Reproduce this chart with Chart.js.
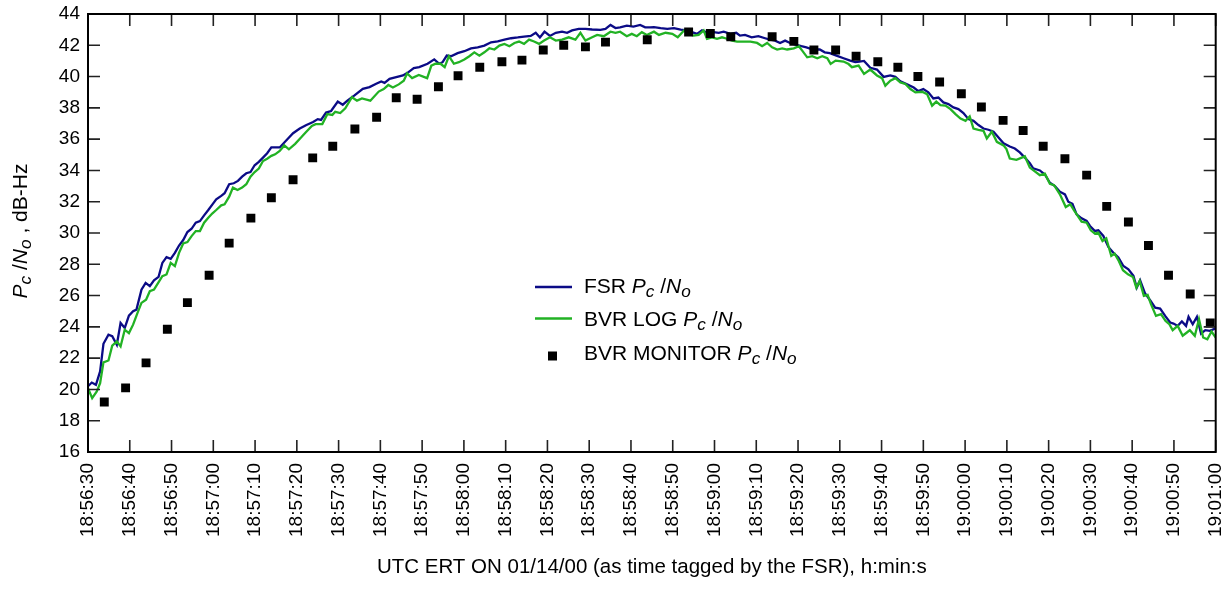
<!DOCTYPE html>
<html>
<head>
<meta charset="utf-8">
<script src="https://cdn.jsdelivr.net/npm/chart.js@4.4.1/dist/chart.umd.min.js"></script>
<style>
  html, body { margin: 0; padding: 0; background: #ffffff; }
  #wrap { width: 1222px; height: 596px; }
</style>
</head>
<body>
<div id="wrap"><canvas id="chart" width="1222" height="596"></canvas></div>
<script>
// Time axis: seconds after 18:56:30 UTC, one label every 10 s
const tickLabels = [
  '18:56:30', '18:56:40', '18:56:50', '18:57:00', '18:57:10', '18:57:20', '18:57:30',
  '18:57:40', '18:57:50', '18:58:00', '18:58:10', '18:58:20', '18:58:30', '18:58:40',
  '18:58:50', '18:59:00', '18:59:10', '18:59:20', '18:59:30', '18:59:40', '18:59:50',
  '19:00:00', '19:00:10', '19:00:20', '19:00:30', '19:00:40', '19:00:50', '19:01:00'
];

// FSR Pc/No  [seconds, dB-Hz]
const fsrReadings = [
  [0,20.2],[0.9,20.44],[1.9,20.3],[2.9,21.15],[3.7,22.92],[4.9,23.5],[5.8,23.4],[6.9,22.86],
  [7.8,24.25],[8.8,23.93],[9.8,24.72],[10.8,25.0],[11.6,25.1],[12.8,26.38],[13.8,26.81],[14.8,26.6],
  [15.8,26.98],[16.9,27.2],[17.8,28.09],[18.8,28.46],[19.8,28.35],[20.8,28.73],[21.8,29.2],[22.8,29.55],
  [23.8,30.06],[24.8,30.27],[25.8,30.66],[26.8,30.76],[27.8,31.13],[28.8,31.47],[29.8,31.83],[30.7,32.15],
  [31.9,32.37],[32.7,32.54],[33.8,33.12],[34.9,33.18],[35.9,33.33],[36.9,33.6],[37.9,33.82],[38.9,33.9],
  [39.9,34.33],[40.9,34.55],[41.9,34.82],[42.9,35.1],[43.9,35.47],[44.8,35.47],[45.9,35.47],[47.9,36.04],
  [49.1,36.38],[50.7,36.68],[52.3,36.9],[53.9,37.1],[55.0,37.28],[55.8,37.23],[57.0,37.7],[58.2,37.8],
  [59.8,38.4],[61.0,38.2],[62.1,38.46],[63.8,38.8],[65.8,39.22],[67.4,39.33],[69.0,39.54],[70.2,39.69],
  [71.0,39.6],[72.2,39.86],[73.8,39.97],[75.4,40.07],[76.5,40.24],[78.0,40.54],[79.3,40.6],[81.3,40.82],
  [82.9,41.1],[84.1,40.82],[84.9,40.92],[85.9,41.34],[86.9,41.3],[88.5,41.5],[90.1,41.62],[91.7,41.8],
  [93.3,41.87],[94.9,41.98],[96.5,42.19],[98.1,42.25],[99.7,42.36],[101.3,42.45],[102.9,42.5],[104.4,42.56],
  [106.0,42.6],[107.2,42.8],[108.2,42.5],[109.3,42.87],[110.6,42.6],[112.0,42.8],[113.5,42.87],[114.7,42.8],
  [115.9,42.95],[117.5,43.05],[119.1,43.05],[120.7,43.01],[122.7,42.99],[123.9,43.05],[125.1,43.3],[126.3,43.1],
  [127.4,43.15],[129.0,43.26],[130.6,43.2],[132.2,43.3],[133.4,43.15],[134.6,43.15],[135.5,43.16],[137.1,43.1],
  [138.7,43.05],[140.3,43.1],[141.9,43.0],[143.4,42.95],[144.6,42.84],[145.8,42.73],[147.0,42.95],[148.3,42.8],
  [149.8,42.84],[151.0,42.8],[152.2,42.87],[153.8,42.73],[155.2,42.8],[156.1,42.62],[157.3,42.66],[158.9,42.51],
  [160.5,42.58],[162.1,42.45],[163.3,42.36],[164.5,42.3],[165.7,42.15],[166.9,42.3],[168.1,42.15],[169.6,42.02],
  [170.8,41.94],[172.0,41.87],[173.6,41.73],[175.2,41.73],[176.4,41.55],[177.6,41.5],[179.2,41.34],[180.9,41.17],
  [182.5,41.02],[183.7,40.92],[184.7,40.96],[185.8,41.0],[187.3,40.56],[188.9,40.45],[190.5,39.98],[192.1,40.07],
  [193.3,39.98],[194.5,39.7],[196.1,39.5],[197.7,39.3],[198.8,39.07],[200.0,39.2],[201.2,38.99],[202.4,38.6],
  [203.6,38.66],[204.8,38.35],[206.0,38.24],[207.2,38.03],[208.4,37.92],[209.6,37.67],[210.8,37.28],[212.0,37.17],
  [213.2,36.9],[214.4,36.68],[215.6,36.6],[216.8,36.47],[218.0,36.1],[219.2,35.74],[220.7,35.53],[221.9,35.4],
  [223.1,35.15],[224.3,34.82],[225.5,34.46],[226.3,34.13],[227.9,34.0],[229.1,33.74],[230.3,33.21],[231.5,33.0],
  [232.7,32.64],[233.9,32.47],[234.7,32.0],[235.7,31.87],[236.7,31.19],[237.9,30.94],[239.1,30.77],[239.9,30.45],
  [241.1,30.13],[241.9,30.17],[243.1,29.81],[244.3,29.11],[245.5,28.74],[246.7,28.43],[247.9,27.89],[249.1,27.68],
  [250.3,27.26],[251.1,26.51],[251.9,26.98],[253.1,26.13],[254.3,25.7],[255.5,25.23],[256.7,25.17],[257.9,24.7],
  [259.1,24.28],[259.9,24.21],[260.9,24.06],[261.9,24.34],[262.9,24.06],[263.5,24.64],[264.5,24.17],[265.5,24.64],
  [266.5,23.57],[267.5,23.79],[268.6,23.74],[270,23.9]
];

// BVR log Pc/No  [seconds, dB-Hz]
const bvrLogReadings = [
  [0,20.08],[1.0,19.44],[2.1,19.87],[2.9,20.4],[3.7,21.73],[4.9,21.85],[5.8,22.8],[6.9,23.07],
  [7.8,22.75],[8.8,23.82],[9.8,23.6],[10.8,24.14],[11.9,24.93],[12.8,25.53],[13.9,25.74],[14.8,26.28],
  [15.8,26.38],[16.8,26.81],[17.8,27.24],[18.8,27.35],[19.8,28.09],[20.8,27.88],[21.8,28.73],[22.8,29.33],
  [23.8,29.42],[24.8,29.8],[25.8,30.12],[26.8,30.12],[27.8,30.66],[28.8,30.98],[29.8,31.26],[30.7,31.47],
  [31.9,31.77],[32.7,31.83],[33.8,32.32],[34.7,32.9],[35.8,32.75],[36.9,32.9],[37.9,33.12],[38.9,33.6],
  [39.9,33.9],[40.9,34.12],[41.9,34.6],[42.9,34.75],[43.9,34.93],[44.8,35.03],[45.9,35.25],[47.0,35.6],
  [48.1,35.35],[49.6,35.7],[51.0,36.1],[52.1,36.43],[53.6,36.85],[54.5,36.96],[56.1,36.96],[57.3,37.6],
  [58.5,37.55],[59.2,37.75],[60.4,37.67],[61.6,37.97],[63.2,38.68],[64.4,38.46],[65.6,38.6],[67.6,38.46],
  [69.6,39.04],[70.8,39.2],[71.9,39.46],[73.0,39.3],[74.4,39.5],[75.6,39.73],[76.4,40.2],[77.6,39.9],
  [79.2,40.1],[81.2,39.9],[82.2,40.7],[83.2,40.82],[84.4,40.82],[85.4,40.6],[86.4,41.3],[87.6,40.82],
  [88.8,40.92],[90.1,41.09],[91.3,41.3],[92.5,41.55],[93.7,41.34],[94.9,41.55],[96.1,41.81],[97.3,41.73],
  [98.5,41.98],[99.7,42.09],[100.9,41.94],[102.1,42.15],[103.2,42.24],[104.4,42.09],[105.6,42.36],[106.8,42.24],
  [108.0,42.09],[109.2,42.3],[110.6,42.51],[112.0,42.3],[113.5,42.36],[115.1,42.51],[116.7,42.36],[117.9,42.8],
  [119.1,42.3],[120.7,42.51],[121.9,42.66],[123.5,42.58],[125.1,42.87],[126.3,42.8],[127.4,42.87],[129.0,42.58],
  [130.2,42.73],[131.4,42.58],[132.6,42.84],[133.8,42.66],[135.5,42.87],[136.7,42.66],[138.3,42.8],[139.9,42.73],
  [141.2,42.51],[142.7,42.95],[143.8,42.73],[145.0,42.62],[146.2,42.66],[147.4,42.95],[148.2,42.41],[149.4,42.51],
  [150.6,42.41],[151.8,42.51],[152.6,42.45],[154.2,42.3],[155.4,42.24],[157.0,42.24],[158.6,42.24],[160.2,42.15],
  [161.4,41.94],[162.6,42.15],[163.8,41.87],[165.0,41.73],[166.2,41.8],[167.4,41.73],[169.0,41.8],[170.2,41.94],
  [171.0,41.66],[172.2,41.23],[173.4,41.3],[174.6,41.17],[175.8,41.3],[177.0,41.17],[177.8,40.81],[179.0,41.02],
  [180.9,40.96],[182.1,40.8],[182.9,40.6],[184.5,40.7],[185.8,40.17],[187.3,40.45],[188.9,40.07],[190.1,39.9],
  [190.9,39.42],[192.1,39.74],[193.3,39.9],[194.5,39.63],[195.7,39.53],[196.9,39.2],[198.1,38.99],[199.7,39.03],
  [200.9,38.88],[202.1,38.14],[203.1,38.4],[204.1,38.18],[205.3,38.14],[206.5,37.92],[207.7,37.6],[208.9,37.32],
  [210.1,37.17],[211.1,37.45],[212.0,36.68],[213.2,36.6],[214.4,36.53],[215.2,36.04],[216.4,36.47],[217.6,35.83],
  [219.2,35.6],[219.9,35.36],[220.7,34.76],[222.3,34.68],[224.3,34.9],[225.5,34.18],[227.9,33.7],[229.1,33.79],
  [230.3,33.15],[231.3,33.06],[232.7,32.47],[234.1,31.66],[235.2,31.83],[236.2,31.4],[237.9,30.72],[239.1,30.66],
  [240.1,30.17],[241.1,29.96],[241.9,30.02],[242.9,29.49],[243.8,29.66],[245.0,28.53],[245.8,28.68],[246.8,28.21],
  [247.8,27.62],[249.0,27.36],[250.2,27.19],[251.0,26.51],[251.8,26.94],[252.8,25.98],[253.7,26.04],[254.5,25.45],
  [255.7,24.7],[256.9,24.81],[258.0,24.38],[258.9,24.17],[259.7,23.79],[260.9,24.06],[262.1,23.43],[263.1,23.64],
  [263.8,23.79],[265.0,23.43],[266.0,24.49],[267.0,23.32],[268.0,23.21],[269.0,23.7],[270.0,23.32]
];

// BVR monitor Pc/No  [seconds, dB-Hz]
const bvrMonitorReadings = [
  [3.9,19.2],[9.0,20.1],[13.9,21.7],[19.0,23.85],[23.8,25.55],[29.0,27.3],[33.8,29.35],[39.0,30.95],
  [43.9,32.25],[49.1,33.4],[53.8,34.8],[58.6,35.55],[63.9,36.65],[69.1,37.4],[73.8,38.65],[78.8,38.55],
  [83.9,39.35],[88.6,40.05],[93.8,40.6],[99.1,40.95],[103.9,41.05],[109.0,41.7],[113.9,42.0],[119.1,41.9],
  [123.9,42.2],[133.9,42.35],[143.8,42.85],[149.0,42.75],[153.9,42.55],[163.8,42.55],[169.0,42.25],[173.8,41.7],
  [179.0,41.7],[183.9,41.3],[189.1,40.95],[193.9,40.6],[198.7,40.0],[203.9,39.65],[209.1,38.9],[213.9,38.05],
  [219.1,37.2],[223.9,36.55],[228.7,35.55],[233.9,34.75],[239.1,33.7],[243.9,31.7],[249.1,30.7],[253.9,29.2],
  [258.7,27.3],[263.9,26.1],[268.7,24.25]
];

const FAMILY = "'Liberation Sans', Arial, Helvetica, sans-serif";
const COLOR_FSR = '#0b0b86';
const COLOR_LOG = '#22b224';

const toXY = arr => arr.map(([s, v]) => ({ x: s, y: v }));

// Draws a run of text pieces: [text, italic, subscript]
function drawRich(ctx, parts, x, y, size, align) {
  const fontOf = p => (p[1] ? 'italic ' : '') + (p[2] ? size * 0.82 : size) + 'px ' + FAMILY;
  let total = 0;
  for (const p of parts) { ctx.font = fontOf(p); total += ctx.measureText(p[0]).width; }
  let cx = align === 'center' ? x - total / 2 : x;
  ctx.textAlign = 'left';
  ctx.textBaseline = 'alphabetic';
  for (const p of parts) {
    ctx.font = fontOf(p);
    ctx.fillText(p[0], cx, y + (p[2] ? size * 0.2 : 0));
    cx += ctx.measureText(p[0]).width;
  }
}

const pcno = [['P', true, false], ['c', true, true], [' /', false, false], ['N', true, false], ['o', true, true]];

const decorations = {
  id: 'decorations',
  afterDraw(chart) {
    const { ctx, chartArea: a, scales: { x, y } } = chart;
    ctx.save();

    // inward tick marks on all four sides
    const L = 12;
    ctx.strokeStyle = '#222';
    ctx.lineWidth = 1.6;
    ctx.beginPath();
    x.ticks.forEach(t => {
      const px = x.getPixelForValue(t.value);
      ctx.moveTo(px, a.bottom); ctx.lineTo(px, a.bottom - L);
      ctx.moveTo(px, a.top); ctx.lineTo(px, a.top + L);
    });
    y.ticks.forEach(t => {
      const py = y.getPixelForValue(t.value);
      ctx.moveTo(a.left, py); ctx.lineTo(a.left + L, py);
      ctx.moveTo(a.right, py); ctx.lineTo(a.right - L, py);
    });
    ctx.stroke();

    // plot frame
    ctx.strokeStyle = '#000';
    ctx.lineWidth = 2;
    ctx.strokeRect(a.left, a.top, a.right - a.left, a.bottom - a.top);

    ctx.fillStyle = '#000';

    // y-axis title
    ctx.save();
    ctx.translate(27, (a.top + a.bottom) / 2 - 2);
    ctx.rotate(-Math.PI / 2);
    drawRich(ctx, pcno.concat([[' , dB-Hz', false, false]]), 0, 0, 21, 'center');
    ctx.restore();

    // x-axis title
    ctx.font = '20.5px ' + FAMILY;
    ctx.textAlign = 'center';
    ctx.textBaseline = 'alphabetic';
    ctx.fillText('UTC ERT ON 01/14/00 (as time tagged by the FSR), h:min:s', (a.left + a.right) / 2, 573);

    // legend
    const lx = a.left + 447, tx = a.left + 496;
    ctx.lineWidth = 2.5;
    ctx.strokeStyle = COLOR_FSR;
    ctx.beginPath(); ctx.moveTo(lx, 287); ctx.lineTo(lx + 37, 287); ctx.stroke();
    drawRich(ctx, [['FSR ', false, false]].concat(pcno), tx, 293, 21, 'left');
    ctx.strokeStyle = COLOR_LOG;
    ctx.beginPath(); ctx.moveTo(lx, 318.5); ctx.lineTo(lx + 37, 318.5); ctx.stroke();
    drawRich(ctx, [['BVR LOG ', false, false]].concat(pcno), tx, 326, 21, 'left');
    ctx.fillRect(lx + 13, 351.5, 9, 9);
    drawRich(ctx, [['BVR MONITOR ', false, false]].concat(pcno), tx, 360, 21, 'left');

    ctx.restore();
  }
};

new Chart(document.getElementById('chart'), {
  type: 'line',
  data: {
    datasets: [
      {
        label: 'BVR MONITOR Pc/No',
        data: toXY(bvrMonitorReadings),
        showLine: false,
        pointStyle: 'rect',
        pointRadius: 6.3,
        pointBackgroundColor: '#000',
        pointBorderWidth: 0,
        order: 0
      },
      {
        label: 'BVR LOG Pc/No',
        data: toXY(bvrLogReadings),
        borderColor: COLOR_LOG,
        borderWidth: 2.3,
        pointRadius: 0,
        tension: 0,
        order: 1
      },
      {
        label: 'FSR Pc/No',
        data: toXY(fsrReadings),
        borderColor: COLOR_FSR,
        borderWidth: 2.3,
        pointRadius: 0,
        tension: 0,
        order: 2
      }
    ]
  },
  options: {
    responsive: false,
    animation: false,
    devicePixelRatio: 1,
    layout: { padding: { top: 14, right: 4, left: 0, bottom: 0 } },
    plugins: { legend: { display: false }, tooltip: { enabled: false } },
    scales: {
      x: {
        type: 'linear',
        min: 0,
        max: 270,
        grid: { display: false, drawTicks: false },
        border: { display: false },
        afterFit: s => { s.height = 144; s.paddingLeft = 0; s.paddingRight = 0; },
        ticks: {
          stepSize: 10,
          autoSkip: false,
          maxRotation: 90,
          minRotation: 90,
          padding: 11,
          color: '#000',
          font: { family: FAMILY, size: 19 },
          callback: v => tickLabels[Math.round(v / 10)]
        }
      },
      y: {
        min: 16,
        max: 44,
        grid: { display: false, drawTicks: false },
        border: { display: false },
        afterFit: s => { s.width = 88; s.paddingTop = 0; s.paddingBottom = 0; },
        ticks: {
          stepSize: 2,
          padding: 8,
          color: '#000',
          font: { family: FAMILY, size: 19 }
        }
      }
    }
  },
  plugins: [decorations]
});
</script>
</body>
</html>
